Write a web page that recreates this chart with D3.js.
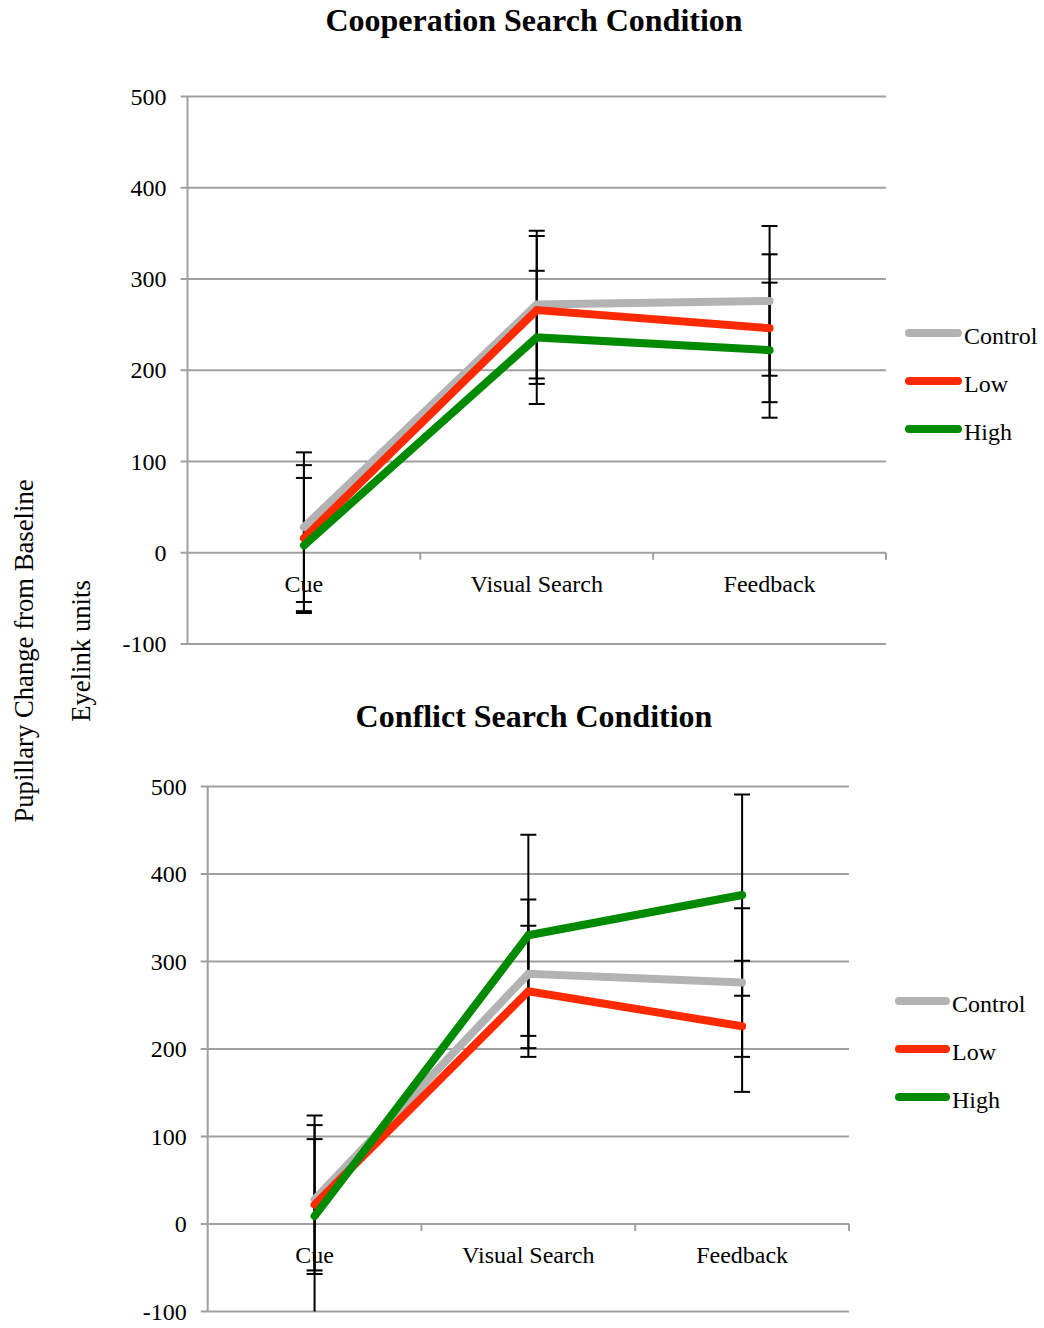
<!DOCTYPE html>
<html>
<head>
<meta charset="utf-8">
<script src="https://cdn.jsdelivr.net/npm/d3@7"></script>
<style>
  html, body { margin: 0; padding: 0; background: #ffffff; }
  svg { display: block; font-family: "Liberation Serif", "Times New Roman", serif; }
</style>
</head>
<body>
<svg id="chart" width="1044" height="1328"></svg>
<script>
// Pupillary change from baseline (Eyelink units) by trial phase
const categories = ["Cue", "Visual Search", "Feedback"];
const seriesNames = ["Control", "Low", "High"];
const seriesColors = ["#b3b3b3", "#ff2a00", "#008a00"];
const yTicks = [-100, 0, 100, 200, 300, 400, 500];

// Cooperation search condition: means and error half-widths
const coopControl = [28, 272, 276];
const coopControlErr = [82, 81, 82];
const coopLow = [16, 266, 246];
const coopLowErr = [80, 81, 81];
const coopHigh = [8, 236, 222];
const coopHighErr = [74, 73, 74];

// Conflict search condition: means and error half-widths
const conflictControl = [28, 286, 276];
const conflictControlErr = [85, 85, 85];
const conflictLow = [22, 266, 226];
const conflictLowErr = [75, 75, 75];
const conflictHigh = [9, 330, 376];
const conflictHighErr = [115, 115, 115];

const svg = d3.select("#chart");
const FONT = 24;

function drawPanel(opts) {
  const { title, titleY, left, right, top, bottom, series, legendX, legendY, clipId } = opts;

  const x = d3.scaleBand().domain(categories).range([left, right]).padding(0);
  const y = d3.scaleLinear().domain([-100, 500]).range([bottom, top]);
  const g = svg.append("g");

  // clip region for the plot area
  svg.append("clipPath").attr("id", clipId)
    .append("rect")
    .attr("x", left - 20).attr("y", top)
    .attr("width", right - left + 40).attr("height", bottom - top);

  // horizontal gridlines
  g.append("g").selectAll("line").data(yTicks).join("line")
    .attr("x1", left - 7).attr("x2", right)
    .attr("y1", d => y(d)).attr("y2", d => y(d))
    .attr("stroke", "#a0a0a0").attr("stroke-width", 2);

  // vertical value axis line
  g.append("line")
    .attr("x1", left).attr("x2", left)
    .attr("y1", y(500)).attr("y2", y(-100))
    .attr("stroke", "#a0a0a0").attr("stroke-width", 2);

  // y tick labels through axisLeft (plain hyphen for negatives)
  const yAxis = d3.axisLeft(y).tickValues(yTicks).tickSize(0).tickPadding(21)
    .tickFormat(d => String(d));
  const ya = g.append("g").attr("transform", `translate(${left},0)`).call(yAxis);
  ya.select(".domain").remove();
  ya.selectAll("text")
    .attr("font-size", FONT).attr("fill", "#000")
    .style("font-family", "Liberation Serif, Times New Roman, serif");

  // category boundary ticks hanging below the zero line
  const boundaries = categories.map(c => x(c) + x.bandwidth());
  g.append("g").selectAll("line").data(boundaries).join("line")
    .attr("x1", d => d).attr("x2", d => d)
    .attr("y1", y(0)).attr("y2", y(0) + 7)
    .attr("stroke", "#a0a0a0").attr("stroke-width", 2);

  // category labels
  g.append("g").selectAll("text").data(categories).join("text")
    .attr("x", d => x(d) + x.bandwidth() / 2)
    .attr("y", y(0) + 31)
    .attr("dy", "0.35em")
    .attr("text-anchor", "middle")
    .attr("font-size", FONT)
    .text(d => d);

  const cx = c => x(c) + x.bandwidth() / 2;

  // error bars
  const eb = g.append("g").attr("clip-path", `url(#${clipId})`);
  series.forEach(s => {
    s.values.forEach((v, i) => {
      const c = cx(categories[i]);
      const hi = v + s.err[i], lo = v - s.err[i];
      eb.append("line")
        .attr("x1", c).attr("x2", c)
        .attr("y1", y(hi)).attr("y2", y(lo))
        .attr("stroke", "#000").attr("stroke-width", 2);
      [hi, lo].forEach(e => {
        eb.append("line")
          .attr("x1", c - 8).attr("x2", c + 8)
          .attr("y1", y(e)).attr("y2", y(e))
          .attr("stroke", "#000").attr("stroke-width", 2);
      });
    });
  });

  // series lines
  const line = d3.line().x((d, i) => cx(categories[i])).y(d => y(d));
  series.forEach(s => {
    g.append("path")
      .datum(s.values)
      .attr("d", line)
      .attr("fill", "none")
      .attr("stroke", s.color)
      .attr("stroke-width", 8)
      .attr("stroke-linecap", "round")
      .attr("stroke-linejoin", "miter");
  });

  // legend
  const lg = g.append("g");
  series.forEach((s, i) => {
    const ly = legendY + i * 48;
    lg.append("line")
      .attr("x1", legendX + 4).attr("x2", legendX + opts.legendLen - 4)
      .attr("y1", ly).attr("y2", ly)
      .attr("stroke", s.color).attr("stroke-width", 8)
      .attr("stroke-linecap", "round");
    lg.append("text")
      .attr("x", legendX + opts.legendLen + 2)
      .attr("y", ly + 3).attr("dy", "0.35em")
      .attr("font-size", FONT)
      .text(s.name);
  });

  // title
  svg.append("text")
    .attr("x", 534).attr("y", titleY)
    .attr("text-anchor", "middle")
    .attr("font-size", 32)
    .attr("font-weight", "bold")
    .text(title);
}

drawPanel({
  title: "Cooperation Search Condition",
  titleY: 31,
  left: 187.5, right: 886, top: 96.5, bottom: 644,
  legendX: 905, legendY: 333, legendLen: 57,
  clipId: "clipCoop",
  series: [
    { name: seriesNames[0], color: seriesColors[0], values: coopControl, err: coopControlErr },
    { name: seriesNames[1], color: seriesColors[1], values: coopLow, err: coopLowErr },
    { name: seriesNames[2], color: seriesColors[2], values: coopHigh, err: coopHighErr }
  ]
});

drawPanel({
  title: "Conflict Search Condition",
  titleY: 727,
  left: 207.7, right: 849, top: 786.5, bottom: 1311.5,
  legendX: 895, legendY: 1001, legendLen: 55,
  clipId: "clipConflict",
  series: [
    { name: seriesNames[0], color: seriesColors[0], values: conflictControl, err: conflictControlErr },
    { name: seriesNames[1], color: seriesColors[1], values: conflictLow, err: conflictLowErr },
    { name: seriesNames[2], color: seriesColors[2], values: conflictHigh, err: conflictHighErr }
  ]
});

// shared value-axis titles
svg.append("text")
  .attr("transform", "translate(24,651) rotate(-90)")
  .attr("dy", "0.35em")
  .attr("text-anchor", "middle")
  .attr("font-size", 26.7)
  .text("Pupillary Change from Baseline");

svg.append("text")
  .attr("transform", "translate(81,651) rotate(-90)")
  .attr("dy", "0.35em")
  .attr("text-anchor", "middle")
  .attr("font-size", 26.7)
  .text("Eyelink units");
</script>
</body>
</html>
